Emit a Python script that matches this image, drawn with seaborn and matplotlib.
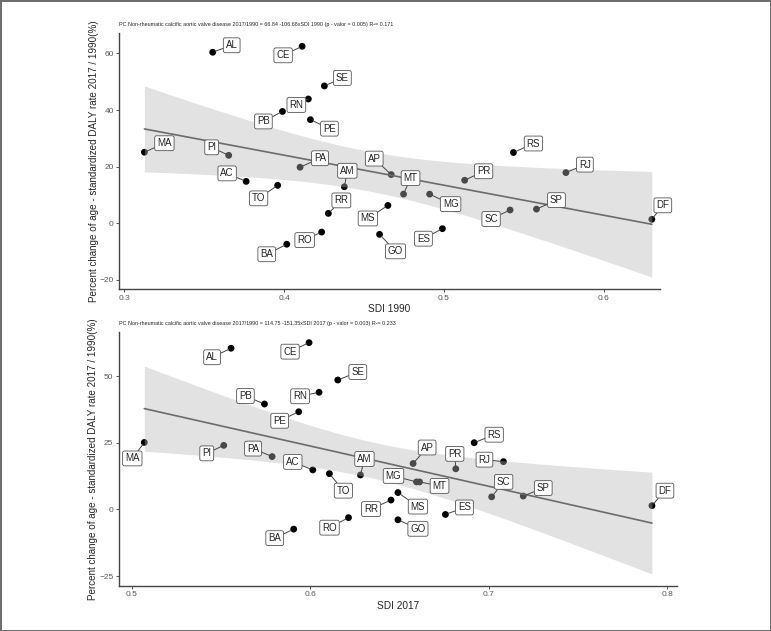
import numpy as np
import pandas as pd
import seaborn as sns
import matplotlib.pyplot as plt

states = ['AL', 'CE', 'SE', 'RN', 'PB', 'PE', 'MA', 'RS', 'PI', 'PA', 'RJ', 'AP', 'PR', 'AC',
          'TO', 'AM', 'MG', 'MT', 'MS', 'SP', 'SC', 'RR', 'DF', 'ES', 'RO', 'GO', 'BA']
sdi_1990 = [0.3554, 0.4113, 0.4252, 0.4152, 0.3990, 0.4165, 0.3127, 0.5434, 0.3654, 0.4100,
            0.5762, 0.4670, 0.5129, 0.3763, 0.3960, 0.4377, 0.4910, 0.4747, 0.4649, 0.5578,
            0.5413, 0.4277, 0.6299, 0.4990, 0.4235, 0.4597, 0.4017]
sdi_2017 = [0.5557, 0.5994, 0.6155, 0.6050, 0.5744, 0.5936, 0.5071, 0.6919, 0.5516, 0.5787,
            0.7083, 0.6577, 0.6816, 0.6015, 0.6108, 0.6282, 0.6596, 0.6613, 0.6492, 0.7194,
            0.7017, 0.6453, 0.7915, 0.6758, 0.6215, 0.6492, 0.5908]
pct_change = [60.4, 62.5, 48.5, 43.9, 39.5, 36.6, 25.1, 25.0, 24.0, 19.8, 17.9, 17.2, 15.2, 14.8,
              13.4, 12.9, 10.3, 10.3, 6.3, 5.0, 4.7, 3.5, 1.4, -1.9, -3.1, -3.9, -7.4]

titles = ['PC Non-rheumatic calcific aortic valve disease 2017/1990 = 66.84 -106.68xSDI 1990 (p - valor = 0.005) R²= 0.171',
          'PC Non-rheumatic calcific aortic valve disease 2017/1990 = 114.75 -151.35xSDI 2017 (p - valor = 0.003) R²= 0.233']

# label offsets in pixels (dx right, dy down), mimicking ggrepel placement
offsets_1990 = {'AL': (19, -7), 'CE': (-19, 9), 'SE': (18, -8), 'RN': (-12, 6), 'PB': (-19, 10),
                'PE': (19, 9), 'MA': (20, -9), 'PI': (-17, -8), 'PA': (20, -9), 'AC': (-19, -8),
                'TO': (-19, 13), 'AM': (3, -16), 'RR': (13, -13), 'RO': (-17, 8), 'BA': (-20, 10),
                'MS': (-20, 13), 'GO': (16, 17), 'AP': (-17, -16), 'MT': (7, -16), 'MG': (21, 10),
                'ES': (-19, 10), 'PR': (19, -9), 'RS': (20, -9), 'SC': (-19, 9), 'SP': (20, -9),
                'RJ': (19, -8), 'DF': (11, -14)}
offsets_2017 = {'AL': (-19, 9), 'CE': (-19, 9), 'PB': (-19, -8), 'RN': (-19, 4), 'PE': (-19, 9),
                'MA': (-12, 16), 'PI': (-17, 8), 'PA': (-19, -8), 'AC': (-20, -8), 'TO': (14, 17),
                'RO': (-19, 10), 'BA': (-19, 9), 'SE': (20, -8), 'AM': (4, -16), 'RR': (-20, 9),
                'MS': (20, 14), 'GO': (20, 9), 'AP': (14, -16), 'MG': (-23, -6), 'MT': (20, 4),
                'ES': (19, -7), 'PR': (-1, -15), 'RS': (20, -8), 'RJ': (-19, -2), 'SC': (12, -15),
                'SP': (20, -8), 'DF': (13, -15)}

df = pd.DataFrame({'state': states, 'sdi_1990': sdi_1990, 'sdi_2017': sdi_2017, 'pct': pct_change})
T975 = 2.060  # t quantile, 25 df (ggplot's geom_smooth lm band)

sns.set_style('white')
plt.rcParams['font.family'] = ['Liberation Sans', 'DejaVu Sans']

fig = plt.figure(figsize=(7.71, 6.31), dpi=100, linewidth=2, edgecolor='#6e6e6e')
ax1 = fig.add_axes([0.1547, 0.542, 0.7013, 0.4057])
ax2 = fig.add_axes([0.1543, 0.0718, 0.7237, 0.4025])

panels = [
    (ax1, 'sdi_1990', 'SDI 1990', offsets_1990, titles[0], (0.297, 0.635), (-23.2, 67.2),
     [0.3, 0.4, 0.5, 0.6], [-20, 0, 20, 40, 60]),
    (ax2, 'sdi_2017', 'SDI 2017', offsets_2017, titles[1], (0.4929, 0.8055), (-28.6, 66.6),
     [0.5, 0.6, 0.7, 0.8], [-25, 0, 25, 50]),
]

for ax, col, xlabel, offs, title, xlim, ylim, xticks, yticks in panels:
    sns.scatterplot(df, x=col, y='pct', ax=ax, color='black', s=24, edgecolor='none', zorder=2)
    x = df[col].to_numpy()
    y = df['pct'].to_numpy()
    b, a = np.polyfit(x, y, 1)
    resid = y - (a + b * x)
    s = np.sqrt((resid ** 2).sum() / (len(x) - 2))
    grid = np.linspace(x.min(), x.max(), 80)
    fit = a + b * grid
    se = s * np.sqrt(1 / len(x) + (grid - x.mean()) ** 2 / ((x - x.mean()) ** 2).sum())
    ax.fill_between(grid, fit - T975 * se, fit + T975 * se, color='#b8b8b8', alpha=0.4, lw=0, zorder=3)
    sns.lineplot(x=grid, y=fit, ax=ax, color='#6b6b6b', lw=1.2, zorder=4)
    for _, row in df.iterrows():
        dx, dy = offs[row['state']]
        ax.annotate(row['state'], xy=(row[col], row['pct']), xytext=(dx, -dy),
                    textcoords='offset pixels', ha='center', va='center', fontsize=7, zorder=6,
                    bbox=dict(boxstyle='round,pad=0.25,rounding_size=0.2', fc='white', ec='#555555', lw=0.6),
                    arrowprops=dict(arrowstyle='-', color='#444444', lw=0.7, shrinkA=0, shrinkB=2))
    ax.set_xlim(*xlim)
    ax.set_ylim(*ylim)
    ax.set_xticks(xticks)
    ax.set_xticklabels([f'{t:g}' for t in xticks])
    ax.set_yticks(yticks)
    ax.set_xlabel(xlabel, fontsize=7.3, labelpad=2)
    ax.set_ylabel('Percent change of age - standardized DALY rate 2017 / 1990(%)', fontsize=7.1, labelpad=0.5)
    ax.set_title(title, loc='left', fontsize=3.9, pad=5)
    ax.tick_params(axis='both', direction='out', length=2.5, width=0.7, colors='#555555',
                   labelcolor='#5a5a5a', labelsize=6, pad=1.5, bottom=True, left=True)
    sns.despine(ax=ax)
    for sp in ['left', 'bottom']:
        ax.spines[sp].set_color('#444444')
        ax.spines[sp].set_linewidth(1.0)

fig.savefig('out.png', dpi=100, edgecolor=fig.get_edgecolor())
